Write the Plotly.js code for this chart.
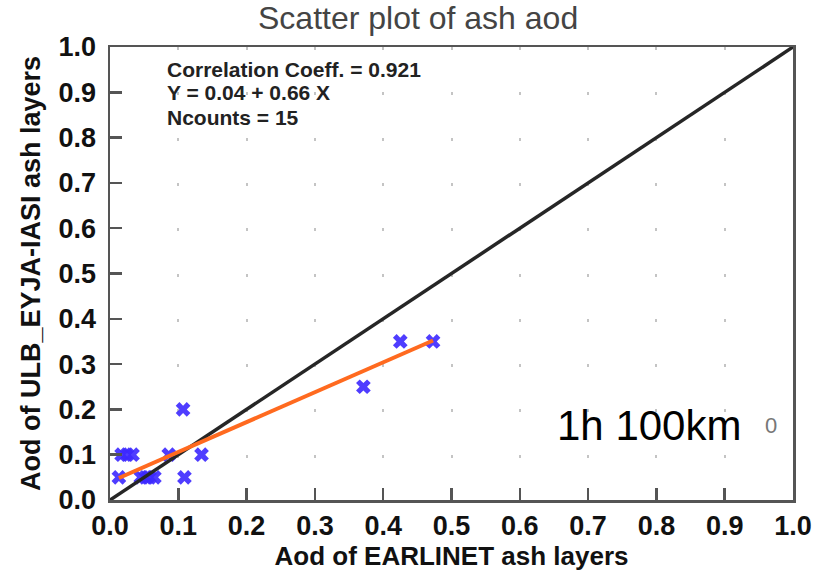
<!DOCTYPE html>
<html>
<head>
<meta charset="utf-8">
<script src="https://cdn.plot.ly/plotly-3.0.1.min.js"></script>
<style>html,body{margin:0;padding:0;background:#fff;}#chart{width:815px;height:578px;}</style>
</head>
<body>
<div id="chart"></div>
<script>
// Data
var earlinetAod = [0.107, 0.017, 0.025, 0.033, 0.086, 0.134, 0.013, 0.045, 0.052, 0.058, 0.065, 0.109, 0.371, 0.425, 0.473];
var iasiAod     = [0.20, 0.10, 0.10, 0.10, 0.10, 0.10, 0.05, 0.05, 0.05, 0.05, 0.05, 0.05, 0.25, 0.35, 0.35];
var oneToOne = [0, 1];
var fitIntercept = 0.04;
var fitSlope = 0.66;
var tickValues = [0, 0.1, 0.2, 0.3, 0.4, 0.5, 0.6, 0.7, 0.8, 0.9, 1.0];
var statsLines = ["Correlation Coeff. = 0.921", "Y = 0.04 + 0.66 X", "Ncounts = 15"];

var fitX = [Math.min.apply(null, earlinetAod), Math.max.apply(null, earlinetAod)];
var fitY = fitX.map(function (x) { return fitIntercept + fitSlope * x; });

var W = 815, H = 578;
var M = {l: 110, r: 22, t: 47, b: 78};
var plotH = H - M.t - M.b;
var stepY = plotH / 10;

var traces = [
  {x: earlinetAod, y: iasiAod, mode: 'markers', type: 'scatter',
   marker: {symbol: 'x', size: 13, color: 'rgba(60,40,255,0.9)', line: {width: 0}},
   hoverinfo: 'x+y'},
  {x: oneToOne, y: oneToOne, mode: 'lines', type: 'scatter',
   line: {color: '#262626', width: 3.5}},
  {x: fitX, y: fitY, mode: 'lines', type: 'scatter',
   line: {color: '#ff6a1f', width: 4}}
];

var axisCommon = {
  range: [0, 1], tickvals: tickValues, tickformat: '.1f',
  showline: true, linecolor: '#555', linewidth: 2.5, mirror: true,
  ticks: 'inside', ticklen: 12, tickwidth: 2.5, tickcolor: '#555',
  zeroline: false, automargin: false,
  tickfont: {family: 'Liberation Sans, Arial, sans-serif', size: 27, color: '#111', weight: 'bold'}
};

var xaxis = Object.assign({}, axisCommon, {
  showgrid: true, gridcolor: '#c4c4c4', gridwidth: 2,
  griddash: '3px,' + (stepY - 3).toFixed(2) + 'px',
  ticklabelstandoff: 0,
  title: {text: 'Aod of EARLINET ash layers', standoff: 2,
          font: {family: 'Liberation Sans, Arial, sans-serif', size: 26, color: '#111', weight: 'bold'}}
});
var yaxis = Object.assign({}, axisCommon, {
  showgrid: false,
  ticklabelstandoff: 6,
  title: {text: 'Aod of ULB_EYJA-IASI ash layers', standoff: 10,
          font: {family: 'Liberation Sans, Arial, sans-serif', size: 27, color: '#111', weight: 'bold'}}
});

var annotations = statsLines.map(function (t, i) {
  return {text: t, xref: 'paper', yref: 'paper', x: 0.08, y: 1 - (22 + i * 24) / plotH,
          xanchor: 'left', yanchor: 'middle', showarrow: false,
          font: {family: 'Liberation Sans, Arial, sans-serif', size: 21, color: '#222', weight: 'bold'}};
});
annotations.push({text: '1h 100km', xref: 'paper', yref: 'paper', x: 0.652, y: 1 - (425 - M.t) / plotH,
  xanchor: 'left', yanchor: 'middle', showarrow: false,
  font: {family: 'Liberation Sans, Arial, sans-serif', size: 42, color: '#000'}});
annotations.push({text: '0', xref: 'paper', yref: 'paper', x: 0.968, y: 1 - (425 - M.t) / plotH,
  xanchor: 'center', yanchor: 'middle', showarrow: false,
  font: {family: 'Liberation Sans Narrow, Liberation Sans, sans-serif', size: 22, color: '#777'}});

var layout = {
  width: W, height: H, margin: M,
  paper_bgcolor: '#fff', plot_bgcolor: '#fff',
  showlegend: false,
  title: {text: 'Scatter plot of ash aod', xref: 'container', x: 0.513, xanchor: 'center',
          yref: 'container', y: 1 - 18 / H, yanchor: 'middle',
          font: {family: 'Liberation Sans, Arial, sans-serif', size: 32, color: '#444'}},
  xaxis: xaxis, yaxis: yaxis, annotations: annotations
};

Plotly.newPlot('chart', traces, layout, {displayModeBar: false, staticPlot: true});
</script>
</body>
</html>
